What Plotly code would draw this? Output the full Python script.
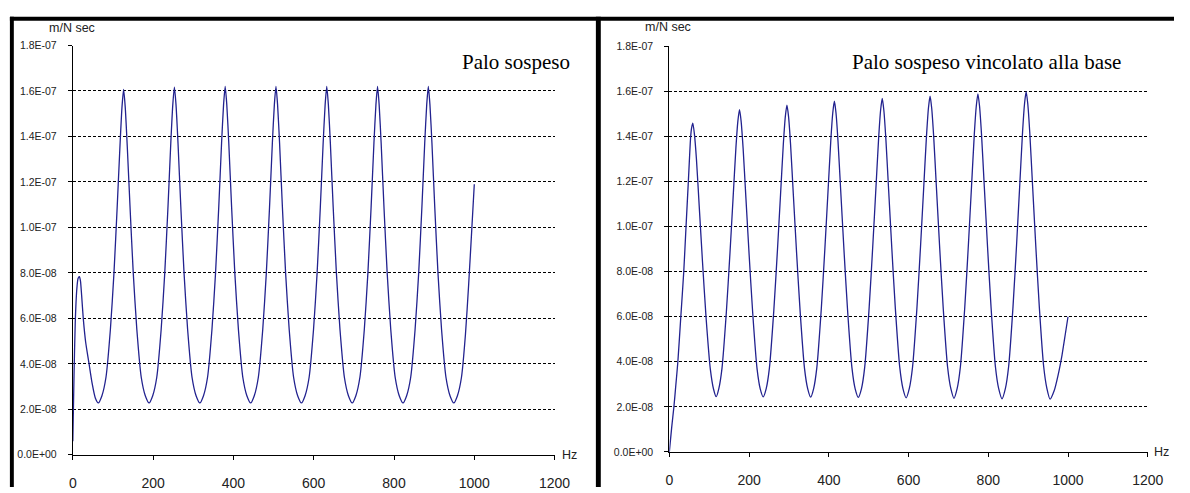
import plotly.graph_objects as go

# ---------------- data ----------------
# Left panel: "Palo sospeso"  (frequency Hz, mobility m/N sec)
left_freq = [
    0, 3, 6, 10, 13, 16.4, 19, 22, 26, 32, 40, 48, 56, 63.5,
    72.5, 82.5, 93.5, 102.5, 110.5, 117.5, 122.5, 126.5, 130.5, 135.5, 142.5, 150.5, 159.5, 170.5, 180.5, 190,
    199, 209, 220, 229, 237, 244, 249, 253, 257, 262, 269, 277, 286, 297, 307, 316.5,
    325.5, 335.5, 346.5, 355.5, 363.5, 370.5, 375.5, 379.5, 383.5, 388.5, 395.5, 403.5, 412.5, 423.5, 433.5, 443,
    452, 462, 473, 482, 490, 497, 502, 506, 510, 515, 522, 530, 539, 550, 560, 569.5,
    578.5, 588.5, 599.5, 608.5, 616.5, 623.5, 628.5, 632.5, 636.5, 641.5, 648.5, 656.5, 665.5, 676.5, 686.5, 696,
    705, 715, 726, 735, 743, 750, 755, 759, 763, 768, 775, 783, 792, 803, 813, 822.5,
    831.5, 841.5, 852.5, 861.5, 869.5, 876.5, 881.5, 885.5, 889.5, 894.5, 901.5, 909.5, 918.5, 929.5, 939.5, 949,
    958, 968, 978, 986, 994, 1000,
]
left_mob = [  # x 1e-8
    0.6, 3.5, 5.8, 7.3, 7.75, 7.83, 7.65, 7.0, 6.0, 4.95, 4.05, 3.15, 2.5, 2.28,
    2.6, 3.4, 5.5, 8.0, 10.9, 13.6, 15.3, 16.07, 15.3, 13.6, 10.9, 8.0, 5.5, 3.4, 2.6, 2.28,
    2.6, 3.4, 5.5, 8.0, 10.9, 13.7, 15.4, 16.17, 15.4, 13.7, 10.9, 8.0, 5.5, 3.4, 2.6, 2.28,
    2.6, 3.4, 5.5, 8.0, 10.9, 13.7, 15.4, 16.2, 15.4, 13.7, 10.9, 8.0, 5.5, 3.4, 2.6, 2.28,
    2.6, 3.4, 5.5, 8.0, 10.9, 13.7, 15.4, 16.2, 15.4, 13.7, 10.9, 8.0, 5.5, 3.4, 2.6, 2.28,
    2.6, 3.4, 5.5, 8.0, 10.9, 13.7, 15.4, 16.2, 15.4, 13.7, 10.9, 8.0, 5.5, 3.4, 2.6, 2.28,
    2.6, 3.4, 5.5, 8.0, 10.9, 13.7, 15.4, 16.2, 15.4, 13.7, 10.9, 8.0, 5.5, 3.4, 2.6, 2.28,
    2.6, 3.4, 5.5, 8.0, 10.9, 13.7, 15.4, 16.2, 15.4, 13.7, 10.9, 8.0, 5.5, 3.4, 2.6, 2.28,
    2.6, 3.4, 5.3, 7.5, 10.0, 11.9,
]

# Right panel: "Palo sospeso vincolato alla base"
right_freq = [
    0, 6, 11.5, 16, 21.4, 28.8, 36.2, 41.9, 47.7, 53.5, 56, 59, 63, 68, 75, 83, 92, 103, 111, 117.5,
    124, 132, 143, 152, 160, 167, 172, 176, 180, 185, 192, 200, 209, 220, 228, 235.5,
    243, 251, 262, 271, 279, 286, 291, 295, 299, 304, 311, 319, 328, 339, 347, 354.5,
    362, 370, 381, 390, 398, 405, 410, 414, 418, 423, 430, 438, 447, 458, 466, 474,
    482, 490, 501, 510, 518, 525, 530, 534, 538, 543, 550, 558, 567, 578, 586, 594,
    602, 610, 621, 630, 638, 645, 650, 654, 658, 663, 670, 678, 687, 698, 706, 714,
    722, 730, 741, 750, 758, 765, 770, 774, 778, 783, 790, 798, 807, 818, 826, 834.5,
    843, 851, 862, 871, 879, 886, 891, 895, 899, 904, 911, 919, 928, 939, 947, 955,
    965, 975, 985, 993, 1000,
]
right_mob = [  # x 1e-8
    0, 1.1, 2.0, 2.9, 4.0, 6.0, 8.0, 10.0, 12.0, 14.0, 14.4, 14.6, 14.1, 13.0, 10.9, 8.5, 6.0, 3.65, 2.78, 2.45,
    2.8, 3.7, 6.2, 8.8, 11.3, 13.5, 14.7, 15.2, 14.7, 13.5, 11.3, 8.8, 6.2, 3.7, 2.8, 2.44,
    2.81, 3.72, 6.26, 8.9, 11.44, 13.68, 14.9, 15.4, 14.9, 13.68, 11.44, 8.9, 6.26, 3.72, 2.81, 2.43,
    2.81, 3.74, 6.31, 8.98, 11.56, 13.82, 15.06, 15.57, 15.06, 13.82, 11.56, 8.98, 6.31, 3.74, 2.81, 2.42,
    2.81, 3.75, 6.35, 9.05, 11.65, 13.93, 15.18, 15.7, 15.18, 13.93, 11.65, 9.05, 6.35, 3.75, 2.81, 2.40,
    2.82, 3.76, 6.38, 9.1, 11.72, 14.02, 15.28, 15.8, 15.28, 14.02, 11.72, 9.1, 6.38, 3.76, 2.82, 2.38,
    2.82, 3.77, 6.41, 9.15, 11.79, 14.11, 15.37, 15.9, 15.37, 14.11, 11.79, 9.15, 6.41, 3.77, 2.82, 2.36,
    2.82, 3.78, 6.44, 9.2, 11.86, 14.2, 15.47, 16.0, 15.47, 14.2, 11.86, 9.2, 6.44, 3.78, 2.82, 2.34,
    2.7, 3.4, 4.3, 5.2, 6.0,
]

y_tickvals = [0, 2e-8, 4e-8, 6e-8, 8e-8, 1e-7, 1.2e-7, 1.4e-7, 1.6e-7, 1.8e-7]
y_ticktext = ["0.0E+00", "2.0E-08", "4.0E-08", "6.0E-08", "8.0E-08",
              "1.0E-07", "1.2E-07", "1.4E-07", "1.6E-07", "1.8E-07"]
x_tickvals = [0, 200, 400, 600, 800, 1000, 1200]
x_ticktext = ["0", "200", "400", "600", "800", "1000", "1200"]

titles = ["Palo sospeso", "Palo sospeso vincolato alla base"]
y_unit = "m/N sec"
x_unit = "Hz"

# ---------------- figure ----------------
W, H = 1190, 493


def px(x):
    return x / W


def py(y):
    return (H - y) / H


LINE_COLOR = "#22228f"

fig = go.Figure()
fig.add_trace(go.Scatter(x=left_freq, y=[v * 1e-8 for v in left_mob], mode="lines",
                         line=dict(color=LINE_COLOR, width=1.3, shape="spline", smoothing=0.6),
                         xaxis="x", yaxis="y", showlegend=False, hoverinfo="skip"))
fig.add_trace(go.Scatter(x=right_freq, y=[v * 1e-8 for v in right_mob], mode="lines",
                         line=dict(color=LINE_COLOR, width=1.3, shape="spline", smoothing=0.6),
                         xaxis="x2", yaxis="y2", showlegend=False, hoverinfo="skip"))

axis_font_y = dict(family="Liberation Sans, Arial, sans-serif", size=10.5, color="#222222")
axis_font_x = dict(family="Liberation Sans, Arial, sans-serif", size=14, color="#222222")


def xax(domain, anchor):
    return dict(domain=domain, anchor=anchor, range=[0, 1200], tickvals=x_tickvals, ticktext=x_ticktext,
                showgrid=False, zeroline=False, showline=True, linecolor="black", linewidth=1,
                ticks="outside", ticklen=4, tickcolor="black", tickwidth=1,
                tickfont=axis_font_x, ticklabelstandoff=11, fixedrange=True)


def yax(domain, anchor):
    return dict(domain=domain, anchor=anchor, range=[0, 1.8e-7], tickvals=y_tickvals, ticktext=y_ticktext,
                showgrid=True, gridcolor="black", gridwidth=1, griddash="3px,2px",
                zeroline=False, showline=True, linecolor="black", linewidth=1,
                ticks="outside", ticklen=4, tickcolor="black", tickwidth=1,
                tickfont=axis_font_y, ticklabelstandoff=9, fixedrange=True)


L_x0, L_x1, L_y0, L_y1 = 70, 560, 460, 40.5
R_x0, R_x1, R_y0, R_y1 = 676.7, 1163.3, 457, 41.5

fig.update_layout(
    width=W, height=H, margin=dict(l=0, r=0, t=0, b=0),
    paper_bgcolor="white", plot_bgcolor="white",
    xaxis=xax([px(L_x0), px(L_x1)], "y"),
    yaxis=yax([py(L_y0), py(L_y1)], "x"),
    xaxis2=xax([px(R_x0), px(R_x1)], "y2"),
    yaxis2=yax([py(R_y0), py(R_y1)], "x2"),
)

serif = dict(family="Liberation Serif, Times New Roman, serif", size=21, color="black")
small = dict(family="Liberation Sans, Arial, sans-serif", size=12.5, color="#222222")

ann = [
    dict(x=px(464), y=py(57), text=titles[0], font=serif, xanchor="left", yanchor="middle"),
    dict(x=px(860), y=py(57), text=titles[1], font=serif, xanchor="left", yanchor="middle"),
    dict(x=px(69), y=py(22.5), text=y_unit, font=small, xanchor="center", yanchor="middle"),
    dict(x=px(675), y=py(22), text=y_unit, font=small, xanchor="center", yanchor="middle"),
    dict(x=px(565), y=py(460), text=x_unit, font=small, xanchor="left", yanchor="middle"),
    dict(x=px(1168), y=py(457), text=x_unit, font=small, xanchor="left", yanchor="middle"),
]
for a in ann:
    a.update(xref="paper", yref="paper", showarrow=False)
fig.update_layout(annotations=ann)

# frame borders (black bars)
shapes = [
    dict(type="rect", xref="paper", yref="paper", x0=px(6), x1=px(W), y0=py(15), y1=py(11),
         fillcolor="black", line=dict(width=0)),
    dict(type="rect", xref="paper", yref="paper", x0=px(6), x1=px(10), y0=py(H), y1=py(11),
         fillcolor="black", line=dict(width=0)),
    dict(type="rect", xref="paper", yref="paper", x0=px(602), x1=px(607), y0=py(H), y1=py(11),
         fillcolor="black", line=dict(width=0)),
]
fig.update_layout(shapes=shapes)

fig.write_html("out.html")
